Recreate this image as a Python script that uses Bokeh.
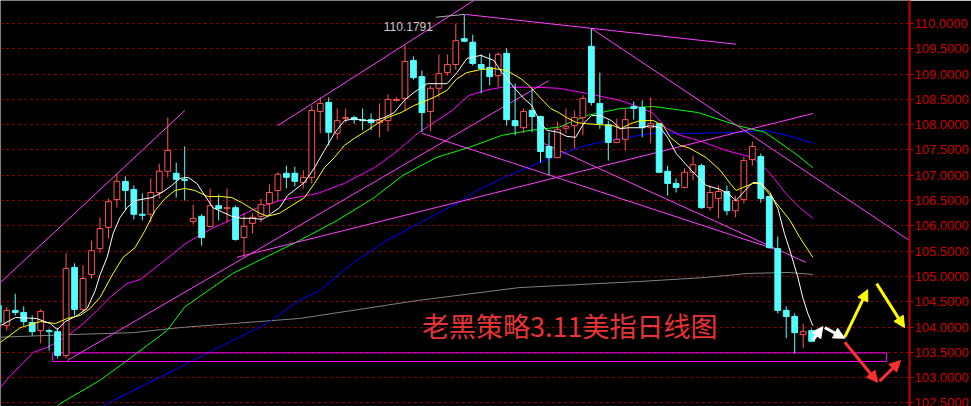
from bokeh.plotting import figure
from bokeh.models import Range1d, FixedTicker, PrintfTickFormatter, Arrow, NormalHead, Label
from bokeh.embed import file_html
from bokeh.resources import INLINE

# ---- daily OHLC of the dollar index (one entry per session) ----
opens = [104.43, 104.03, 104.33, 104.29, 104.09, 103.93, 103.93, 103.91, 103.44, 105.18,
         104.35, 105.04, 105.55, 105.97, 106.52, 106.88, 106.72, 106.23, 106.23, 106.66,
         107.08, 107.04, 106.92, 106.09, 106.19, 105.99, 106.40, 106.34, 106.36, 105.77,
         106.05, 106.19, 106.44, 106.70, 107.04, 107.04, 106.86, 106.96, 108.26, 108.44,
         107.83, 108.12, 108.14, 108.10, 108.10, 108.04, 108.08, 108.48, 108.52, 109.27,
         108.95, 108.26, 108.72, 109.03, 109.19, 109.70, 109.63, 109.19, 109.13, 108.97,
         109.41, 108.08, 107.94, 108.28, 108.16, 107.57, 107.35, 107.93, 107.98, 108.14,
         109.55, 108.42, 108.00, 107.65, 107.71, 108.36, 108.34, 107.94, 108.02, 107.08,
         106.84, 106.76, 107.06, 107.19, 106.36, 106.54, 106.68, 106.30, 106.52, 107.31,
         107.37, 106.58, 105.55, 104.33, 104.21, 103.85, 103.93]
highs = [104.53, 104.39, 104.66, 104.41, 104.23, 104.35, 103.97, 103.99, 105.46, 105.26,
         105.22, 105.71, 106.17, 106.54, 107.04, 106.98, 106.80, 106.64, 106.94, 107.23,
         108.14, 107.25, 107.57, 106.42, 106.23, 106.74, 106.62, 106.74, 106.40, 106.25,
         106.25, 106.54, 106.82, 107.06, 107.19, 107.17, 107.10, 108.38, 108.54, 108.54,
         108.32, 108.32, 108.18, 108.32, 108.22, 108.42, 108.60, 108.54, 109.57, 109.35,
         109.07, 108.77, 109.39, 109.39, 110.00, 110.1791, 109.78, 109.39, 109.41, 109.43,
         109.51, 108.81, 108.32, 108.72, 108.18, 107.85, 108.06, 108.32, 108.28, 108.58,
         109.90, 109.03, 108.08, 108.12, 108.32, 108.46, 108.48, 108.54, 108.02, 107.19,
         106.94, 107.14, 107.39, 107.23, 106.80, 106.80, 106.80, 106.60, 107.37, 107.67,
         107.43, 106.60, 105.79, 104.41, 104.27, 104.07, 103.97]
lows = [104.01, 103.93, 104.23, 104.03, 103.83, 103.68, 103.54, 103.38, 103.38, 104.23,
        104.29, 104.96, 105.46, 105.75, 106.36, 106.32, 106.13, 106.11, 106.07, 106.54,
        106.96, 106.56, 106.50, 106.03, 105.61, 105.97, 106.11, 106.07, 105.71, 105.38,
        105.85, 106.07, 106.25, 106.50, 106.74, 106.78, 106.74, 106.84, 107.83, 107.59,
        107.71, 108.04, 108.02, 107.89, 107.89, 107.75, 107.87, 108.46, 108.28, 108.89,
        107.85, 107.87, 108.54, 108.97, 109.09, 109.63, 109.17, 108.62, 108.78, 108.74,
        107.98, 107.79, 107.83, 107.85, 107.25, 107.00, 107.35, 107.83, 107.53, 107.79,
        108.38, 107.92, 107.29, 107.63, 107.49, 108.10, 107.75, 107.63, 107.04, 106.60,
        106.66, 106.74, 106.90, 106.34, 106.30, 106.15, 106.21, 106.17, 106.44, 107.19,
        106.46, 105.55, 104.27, 103.78, 103.48, 103.58, 103.70]
closes = [104.09, 104.33, 104.29, 104.11, 103.91, 104.31, 103.91, 103.44, 105.16, 104.35,
          104.96, 105.51, 105.95, 106.48, 106.88, 106.70, 106.23, 106.21, 106.66, 107.08,
          107.49, 106.92, 106.90, 106.15, 105.77, 106.40, 106.34, 106.36, 105.73, 105.99,
          106.17, 106.42, 106.66, 107.02, 106.96, 106.88, 106.96, 108.28, 108.42, 107.85,
          108.08, 108.14, 108.10, 108.08, 108.04, 108.08, 108.50, 108.50, 109.25, 108.93,
          108.24, 108.72, 109.01, 109.19, 109.66, 109.65, 109.21, 109.11, 108.95, 109.39,
          108.10, 107.98, 108.26, 108.16, 107.47, 107.35, 107.91, 107.97, 108.14, 108.52,
          108.44, 108.02, 107.65, 107.71, 108.10, 108.32, 107.94, 108.02, 107.06, 106.84,
          106.76, 107.06, 107.21, 106.36, 106.66, 106.68, 106.30, 106.50, 107.29, 107.57,
          106.54, 105.57, 104.33, 104.21, 103.89, 103.91, 103.72]

# ---- moving averages (session position, value) ----
ma5_x = [0.26, 2.02, 4.49, 6.14, 6.96, 7.91, 9.32, 10.49, 11.44, 12.02, 12.85, 13.55, 14.38,
         15.2, 16.14, 18.14, 19.32, 20.49, 21.44, 22.38, 23.44, 24.38, 25.32, 26.49, 27.55,
         28.73, 29.91, 31.2, 32.26, 33.2, 34.14, 36.14, 37.32, 38.49, 39.67, 40.85, 42.02,
         43.2, 44.38, 45.55, 46.73, 47.91, 49.08, 50.61, 52.96, 54.14, 55.32, 56.96, 58.49,
         59.44, 60.85, 62.02, 62.96, 64.02, 64.73, 66.14, 67.08, 68.14, 69.08, 70.02, 71.08,
         72.38, 73.44, 74.38, 75.79, 76.96, 78.14, 79.08, 80.02, 81.08, 82.02, 83.55, 85.2,
         86.14, 87.08, 88.14, 89.08, 90.02, 91.08, 92.02, 92.79, 93.55, 94.38, 94.96, 95.55,
         96.14]
ma5_y = [104.03, 104.19, 104.17, 104.07, 103.95, 104.11, 104.23, 104.37, 104.72, 105.04,
         105.38, 105.85, 106.17, 106.36, 106.50, 106.56, 106.66, 106.80, 106.94, 106.96,
         106.84, 106.60, 106.36, 106.27, 106.19, 106.15, 106.15, 106.13, 106.25, 106.36,
         106.60, 106.86, 107.15, 107.49, 107.83, 108.08, 108.12, 108.08, 108.08, 108.14,
         108.24, 108.48, 108.64, 108.81, 108.81, 109.03, 109.31, 109.37, 109.27, 109.03,
         108.74, 108.52, 108.38, 108.04, 107.89, 107.85, 107.77, 107.75, 108.02, 108.18,
         108.18, 108.08, 107.92, 107.94, 107.94, 107.98, 107.94, 107.73, 107.43, 107.23,
         107.06, 106.80, 106.72, 106.64, 106.50, 106.70, 106.86, 106.84, 106.66, 106.34,
         105.85, 105.45, 104.98, 104.58, 104.27, 104.03]
ma10_x = [0.26, 2.61, 4.96, 6.73, 8.14, 9.67, 10.85, 12.02, 13.55, 14.73, 16.14, 17.32,
          18.49, 19.67, 20.85, 22.02, 23.2, 24.73, 26.38, 27.55, 28.73, 29.91, 30.85, 31.79,
          33.2, 34.61, 36.14, 37.32, 38.49, 39.67, 40.85, 42.02, 43.55, 44.73, 45.91, 47.55,
          49.08, 51.44, 52.96, 54.14, 55.32, 56.96, 58.49, 60.02, 61.67, 62.85, 64.02, 65.2,
          66.14, 67.08, 68.26, 69.44, 71.08, 72.61, 73.44, 74.61, 75.79, 77.32, 78.49, 79.32,
          80.49, 81.67, 83.55, 85.2, 86.38, 87.08, 87.91, 89.08, 89.91, 90.85, 92.26, 93.44,
          94.61, 96.14]
ma10_y = [103.70, 103.99, 104.11, 104.07, 104.17, 104.23, 104.37, 104.59, 105.06, 105.38,
          105.57, 105.91, 106.30, 106.54, 106.70, 106.74, 106.70, 106.58, 106.58, 106.56,
          106.46, 106.34, 106.25, 106.19, 106.25, 106.40, 106.56, 106.84, 107.15, 107.35,
          107.59, 107.73, 107.89, 108.02, 108.14, 108.24, 108.38, 108.54, 108.68, 108.91,
          109.03, 109.09, 109.11, 109.07, 108.91, 108.74, 108.52, 108.32, 108.24, 108.14,
          108.04, 108.02, 108.00, 107.98, 107.92, 108.02, 108.08, 108.08, 107.98, 107.75,
          107.59, 107.53, 107.35, 107.10, 106.84, 106.70, 106.76, 106.84, 106.84, 106.66,
          106.36, 106.11, 105.77, 105.38]
ma20_x = [0.26, 1.44, 2.61, 4.14, 5.79, 7.32, 8.49, 10.02, 11.67, 13.2, 15.2, 16.73, 19.67,
          22.26, 25.2, 27.91, 30.61, 33.2, 37.67, 40.85, 44.38, 46.73, 49.67, 53.55, 55.55,
          57.55, 59.44, 63.44, 66.14, 69.44, 73.44, 75.79, 77.32, 78.85, 80.49, 82.61, 85.91,
          89.08, 91.08, 92.96, 94.61, 96.14]
ma20_y = [102.81, 103.04, 103.24, 103.50, 103.60, 103.74, 103.87, 104.07, 104.33, 104.59,
          104.86, 104.94, 105.32, 105.67, 105.95, 106.15, 106.36, 106.50, 106.64, 106.84,
          107.15, 107.43, 107.85, 108.28, 108.58, 108.68, 108.74, 108.74, 108.72, 108.62,
          108.48, 108.34, 108.22, 107.93, 107.79, 107.69, 107.49, 107.35, 107.04, 106.64,
          106.36, 106.15]
ma60_x = [6.14, 7.32, 12.02, 15.2, 19.91, 22.02, 27.67, 35.55, 40.02, 44.38, 47.67, 51.67,
          55.55, 59.44, 62.85, 66.14, 69.44, 73.44, 77.32, 82.61, 87.32, 90.49, 92.38, 94.38,
          96.14]
ma60_y = [102.31, 102.49, 102.95, 103.34, 103.93, 104.40, 105.06, 105.71, 106.11, 106.56,
          106.99, 107.35, 107.55, 107.79, 107.89, 107.95, 108.18, 108.32, 108.36, 108.24,
          107.98, 107.85, 107.63, 107.39, 107.15]
ma120_x = [11.44, 12.85, 19.91, 25.32, 31.67, 35.55, 37.91, 41.79, 45.79, 49.67, 54.73,
           56.49, 60.26, 65.32, 69.32, 73.44, 77.32, 82.61, 87.32, 90.49, 92.02, 94.02, 96.14]
ma120_y = [102.31, 102.49, 103.08, 103.54, 104.07, 104.53, 104.72, 105.26, 105.71, 106.05,
           106.50, 106.70, 107.00, 107.35, 107.59, 107.73, 107.83, 107.83, 107.85, 107.89,
           107.83, 107.75, 107.63]
ma250_x = [0.26, 8.14, 15.91, 21.44, 27.67, 35.55, 37.91, 49.67, 61.44, 75.55, 83.44, 88.49,
           93.2, 96.14]
ma250_y = [103.80, 103.85, 103.89, 103.99, 104.07, 104.17, 104.23, 104.53, 104.78, 104.90,
           104.98, 105.06, 105.08, 105.04]

# ---- hand-drawn trend lines: (x0, y0, x1, y1) ----
trend_x0 = [0.26, 32.96, 55.08, 70.02, 8.14, 28.14, 50.02, 64.38]
trend_y0 = [104.88, 107.98, 110.18, 109.90, 103.34, 105.38, 107.83, 107.63]
trend_x1 = [22.02, 56.14, 87.08, 107.55, 64.96, 96.14, 92.02, 95.32]
trend_y1 = [108.28, 110.455, 109.59, 105.71, 108.87, 108.22, 105.52, 105.28]

# ---- support zone ----
zone_left, zone_right = 6.41, 104.85
zone_top, zone_bottom = 103.49, 103.32

# ---- projected paths (start x, start y, end x, end y, colour) ----
proj_x0 = [96.14, 97.55, 99.91, 103.67, 99.91, 104.02]
proj_y0 = [103.74, 103.99, 103.80, 104.86, 103.70, 102.93]
proj_x1 = [97.32, 99.91, 102.61, 106.96, 103.79, 106.49]
proj_y1 = [104.01, 103.78, 104.74, 103.99, 102.91, 103.34]
proj_col = ["white", "white", "#ffff00", "#ffff00", "#ff3030", "#ff3030"]

price_ticks = [102.5 + 0.5 * k for k in range(17)]
title_text = "老黑策略3.11美指日线图"

UP = "#ff5454"
DOWN = "#54ffff"
AXIS_RED = "#cc0000"

p = figure(width=971, height=406,
           x_range=Range1d(0.259, 107.55), y_range=Range1d(102.4308, 110.4545),
           x_axis_location=None, y_axis_location="right",
           toolbar_location=None, output_backend="svg",
           min_border_left=0, min_border_top=0, min_border_bottom=0, min_border_right=58,
           background_fill_color="black", border_fill_color="black",
           outline_line_color=None)

p.xgrid.visible = False
p.ygrid.grid_line_color = "#c00000"
p.ygrid.grid_line_dash = "2 4"
p.ygrid.grid_line_width = 1

ax = p.yaxis[0]
ax.ticker = FixedTicker(ticks=price_ticks)
ax.formatter = PrintfTickFormatter(format="%.4f")
ax.axis_line_color = AXIS_RED
ax.axis_line_width = 2
ax.major_tick_line_color = AXIS_RED
ax.major_tick_out = 4
ax.major_tick_in = 0
ax.minor_tick_line_color = None
ax.major_label_text_color = AXIS_RED
ax.major_label_text_font = "Liberation Sans"
ax.major_label_text_font_size = "13px"
ax.major_label_standoff = 1

# moving averages
p.line(ma250_x, ma250_y, line_color="#808080", line_width=1)
p.line(ma120_x, ma120_y, line_color="#0000ff", line_width=1)
p.line(ma60_x, ma60_y, line_color="#00ff00", line_width=1)
p.line(ma20_x, ma20_y, line_color="#ff00ff", line_width=1)

# trend lines
p.segment(x0=trend_x0, y0=trend_y0, x1=trend_x1, y1=trend_y1, line_color="#ff40ff", line_width=1)

# support zone
p.quad(left=[zone_left], right=[zone_right], top=[zone_top], bottom=[zone_bottom],
       fill_color=None, line_color="#ff00ff", line_width=1)

# candles
xs = list(range(len(opens)))
rising = [c >= o for o, c in zip(opens, closes)]
cols = [UP if r else DOWN for r in rising]
fills = ["black" if r else DOWN for r in rising]
p.segment(x0=xs, y0=lows, x1=xs, y1=highs, line_color=cols, line_width=1)
p.vbar(x=xs, width=0.68,
       top=[max(o, c) for o, c in zip(opens, closes)],
       bottom=[min(o, c) for o, c in zip(opens, closes)],
       fill_color=fills, line_color=cols, line_width=1)

p.line(ma10_x, ma10_y, line_color="#ffff00", line_width=1)
p.line(ma5_x, ma5_y, line_color="#ffffff", line_width=1)

# peak annotation
peak_i = max(range(len(highs)), key=lambda i: highs[i])
peak = highs[peak_i]
p.segment(x0=[peak_i - 3.35], y0=[peak - 0.055], x1=[peak_i], y1=[peak],
          line_color="#b0b0b0", line_width=1)
p.add_layout(Label(x=peak_i - 3.7, y=peak - 0.24, text=f"{peak:.4f}",
                   text_align="right", text_baseline="middle",
                   text_color="#c8c8c8", text_font="Liberation Sans",
                   text_font_size="12px"))

# title inside the plot
p.add_layout(Label(x=50.0, y=104.03, text=title_text, text_align="left",
                   text_baseline="middle", text_color="#e83434",
                   text_font="Noto Sans CJK SC", text_font_size="27px"))

# projected paths
for x0, y0, x1, y1, c in zip(proj_x0, proj_y0, proj_x1, proj_y1, proj_col):
    p.add_layout(Arrow(end=NormalHead(size=11, fill_color=c, line_color=c),
                       x_start=x0, y_start=y0, x_end=x1, y_end=y1,
                       line_color=c, line_width=3))

open("out.html", "w").write(file_html(p, INLINE))
